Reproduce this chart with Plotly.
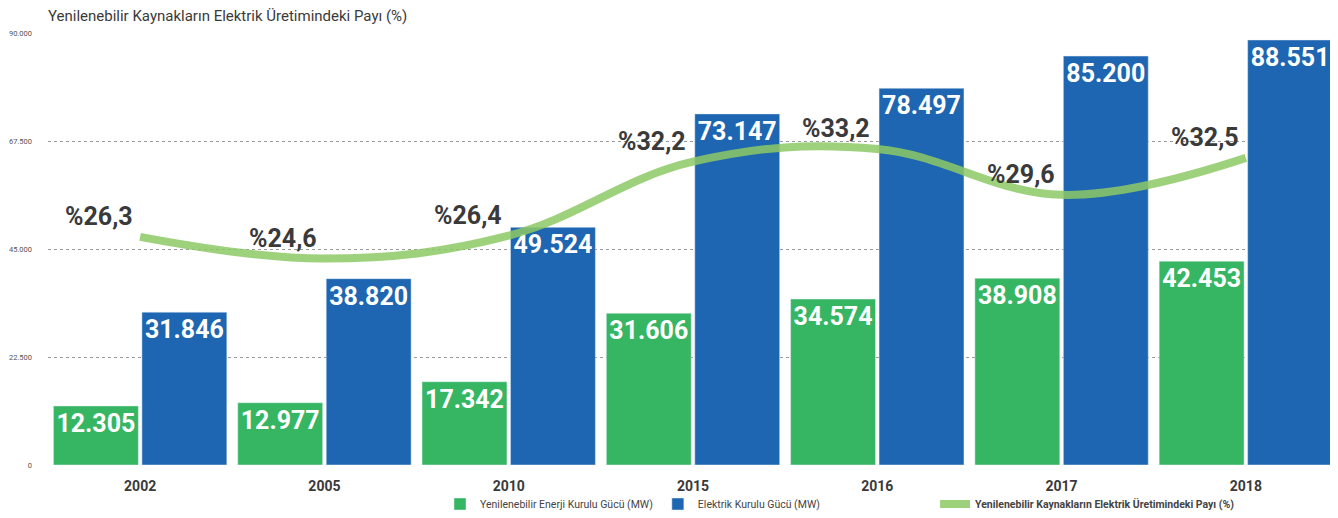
import plotly.graph_objects as go

years = ["2002", "2005", "2010", "2015", "2016", "2017", "2018"]
renewable_mw = [12305, 12977, 17342, 31606, 34574, 38908, 42453]
total_mw = [31846, 38820, 49524, 73147, 78497, 85200, 88551]
renewable_share = [26.3, 24.6, 26.4, 32.2, 33.2, 29.6, 32.5]

W, H = 1338, 518
PAD = 8  # page body margin: the figure is drawn 8px right/down in the window
FONT = "Roboto, Liberation Sans, sans-serif"
GREEN = "#36b663"
BLUE = "#1e66b1"
LINE = "#8cc965"
DARK = "#3a3a3a"


def dotted(v):
    return f"{v:,}".replace(",", ".")


fig = go.Figure()
fig.add_trace(go.Bar(
    x=years, y=renewable_mw, name="Yenilenebilir Enerji Kurulu Gücü (MW)",
    marker_color=GREEN, text=[dotted(v) for v in renewable_mw],
    textposition="inside", insidetextanchor="end", textangle=0,
    textfont=dict(family=FONT, size=25, color="white", weight="bold"),
    legend="legend",
))
fig.add_trace(go.Bar(
    x=years, y=total_mw, name="Elektrik Kurulu Gücü (MW)",
    marker_color=BLUE, text=[dotted(v) for v in total_mw],
    textposition="inside", insidetextanchor="end", textangle=0,
    textfont=dict(family=FONT, size=25, color="white", weight="bold"),
    legend="legend",
))
fig.add_trace(go.Scatter(
    x=years, y=renewable_share, yaxis="y2", mode="lines",
    name="<b>Yenilenebilir Kaynakların Elektrik Üretimindeki Payı (%)</b>",
    line=dict(color=LINE, width=8, shape="spline", smoothing=1.1),
    opacity=0.85,
    legend="legend2",
))

# percentage labels, up-left of each line point
# (category index, since "2002" strings get read as numbers by annotations)
for i, v in enumerate(renewable_share):
    fig.add_annotation(
        x=i, y=v, xref="x", yref="y2",
        text="%" + f"{v:.1f}".replace(".", ","), showarrow=False,
        xanchor="right", yanchor="bottom", xshift=-5, yshift=4,
        font=dict(family=FONT, size=25, color=DARK, weight="bold"),
    )

fig.update_layout(
    width=W, height=H,
    margin=dict(l=48 - PAD, r=PAD, t=33 - PAD, b=H - 465 + PAD, autoexpand=False),
    plot_bgcolor="white", paper_bgcolor="white",
    barmode="group", bargap=0.04, bargroupgap=0.04,
    title=dict(
        text="Yenilenebilir Kaynakların Elektrik Üretimindeki Payı (%)",
        x=(48 - PAD) / W, xanchor="left", y=1 - 2 / H, yanchor="top",
        xref="container", yref="container",
        font=dict(family=FONT, size=15, color=DARK),
        pad=dict(t=0, b=0, l=0, r=0),
    ),
    xaxis=dict(
        type="category", range=[-0.5, len(years) - 0.5],
        showgrid=False, showline=False, ticks="", automargin=False,
        tickfont=dict(family=FONT, size=14, color=DARK, weight="bold"),
        ticklabelstandoff=11,
    ),
    yaxis=dict(
        range=[0, 90000], tickvals=[0, 22500, 45000, 67500, 90000],
        ticktext=["0", "22.500", "45.000", "67.500", "90.000"],
        showgrid=True, gridcolor="#9a9a9a", griddash="dot", gridwidth=1,
        zeroline=False, showline=False, automargin=False,
        tickfont=dict(family=FONT, size=7.5, color="#555"),
        ticklabelstandoff=15,
    ),
    yaxis2=dict(range=[8.4, 42.3], overlaying="y", visible=False),
    legend=dict(
        orientation="h", xref="container", yref="container",
        x=(440 - PAD) / W, y=1 - (504 - PAD) / H, xanchor="left", yanchor="middle",
        font=dict(family=FONT, size=10.5, color="#444"),
        itemwidth=30, tracegroupgap=0, bgcolor="rgba(0,0,0,0)",
    ),
    legend2=dict(
        orientation="h", xref="container", yref="container",
        x=(935 - PAD) / W, y=1 - (504 - PAD) / H, xanchor="left", yanchor="middle",
        font=dict(family=FONT, size=10.5, color="#444"),
        bgcolor="rgba(0,0,0,0)",
    ),
)

fig.write_html("out.html")
